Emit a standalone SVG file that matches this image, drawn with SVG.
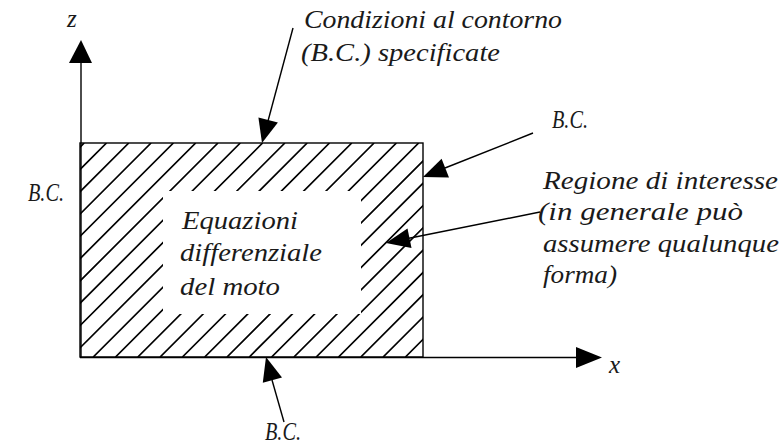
<svg xmlns="http://www.w3.org/2000/svg" width="780" height="446" viewBox="0 0 780 446">
<style>
.t{font-family:"Liberation Serif","Times New Roman",serif;font-style:italic;font-size:25px;fill:#1a1a1a}
.ln{stroke:#000;stroke-width:1.4;fill:none}
.hd{fill:#000}
.hatch{stroke:#000;stroke-width:1.7;fill:none}
</style>
<defs>
<clipPath id="hc">
<path clip-rule="evenodd" d="M80,143 H423 V357 H80 Z M163,191 H361 V314 H163 Z"/>
</clipPath>
</defs>
<rect width="780" height="446" fill="#fff"/>
<g id="region">
<g clip-path="url(#hc)">
<path class="hatch" d="M-129.8,357 L84.2,143 M-107.5,357 L106.5,143 M-85.2,357 L128.8,143 M-62.9,357 L151.1,143 M-40.6,357 L173.4,143 M-18.3,357 L195.7,143 M4,357 L218,143 M26.3,357 L240.3,143 M48.6,357 L262.6,143 M70.9,357 L284.9,143 M93.2,357 L307.2,143 M115.5,357 L329.5,143 M137.8,357 L351.8,143 M160.1,357 L374.1,143 M182.4,357 L396.4,143 M204.7,357 L418.7,143 M227,357 L441,143 M249.3,357 L463.3,143 M271.6,357 L485.6,143 M293.9,357 L507.9,143 M316.2,357 L530.2,143 M338.5,357 L552.5,143 M360.8,357 L574.8,143 M383.1,357 L597.1,143 M405.4,357 L619.4,143"/>
</g>
<rect x="80" y="143" width="343" height="214" class="ln"/>
<text class="t" x="182" y="229" textLength="116" lengthAdjust="spacingAndGlyphs">Equazioni</text>
<text class="t" x="180" y="261" textLength="142" lengthAdjust="spacingAndGlyphs">differenziale</text>
<text class="t" x="180" y="295" textLength="100" lengthAdjust="spacingAndGlyphs">del moto</text>
</g>
<g id="axes">
<line class="ln" x1="81" y1="357" x2="81" y2="60"/>
<polygon class="hd" points="81,40 69,63 92,63"/>
<text class="t" x="67" y="27">z</text>
<line class="ln" x1="80" y1="357.5" x2="580" y2="357.5"/>
<polygon class="hd" points="602,357.5 576,347 576,368"/>
<text class="t" x="609" y="373">x</text>
</g>
<g id="label-top">
<text class="t" x="304" y="28" textLength="258" lengthAdjust="spacingAndGlyphs">Condizioni al contorno</text>
<text class="t" x="301" y="61" textLength="199" lengthAdjust="spacingAndGlyphs">(B.C.) specificate</text>
</g>
<g id="label-right">
<text class="t" x="552" y="128" textLength="36" lengthAdjust="spacingAndGlyphs">B.C.</text>
</g>
<g id="label-region">
<text class="t" x="543" y="189" textLength="235" lengthAdjust="spacingAndGlyphs">Regione di interesse</text>
<text class="t" x="538" y="220" textLength="205" lengthAdjust="spacingAndGlyphs">(in generale può</text>
<text class="t" x="543" y="252" textLength="236" lengthAdjust="spacingAndGlyphs">assumere qualunque</text>
<text class="t" x="543" y="283" textLength="74" lengthAdjust="spacingAndGlyphs">forma)</text>
</g>
<g id="label-left">
<text class="t" x="28" y="201" textLength="36" lengthAdjust="spacingAndGlyphs">B.C.</text>
</g>
<g id="label-bottom">
<text class="t" x="265" y="440" textLength="36" lengthAdjust="spacingAndGlyphs">B.C.</text>
</g>
<g id="connectors">
<line class="ln" x1="293" y1="28" x2="268" y2="121"/>
<polygon class="hd" points="262,143 277.9,122.6 258.4,117.4"/>
<line class="ln" x1="533" y1="133" x2="445" y2="168"/>
<polygon class="hd" points="423,177 449,177.4 441.6,158.8"/>
<line class="ln" x1="540" y1="212" x2="409" y2="238.3"/>
<polygon class="hd" points="386,243 411.5,248.1 407.5,228.5"/>
<line class="ln" x1="284" y1="422" x2="272" y2="380"/>
<polygon class="hd" points="266,357 282,377.4 262.8,382.8"/>
</g>
</svg>
